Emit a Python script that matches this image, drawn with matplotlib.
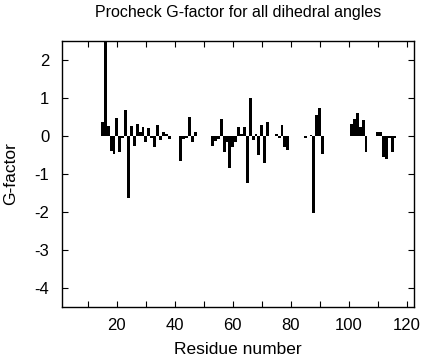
import matplotlib
matplotlib.use("Agg")
import matplotlib.pyplot as plt

residues = [15, 16, 17, 18, 19, 20, 21, 22, 23, 24, 25, 26, 27, 28, 29, 30, 31, 32, 33, 34, 35, 36, 37, 38,
            42, 43, 44, 45, 46, 47,
            53, 54, 55, 56, 57, 58, 59, 60, 61, 62, 63, 64, 65, 66, 67, 68, 69, 70, 71, 72,
            75, 76, 77, 78, 79,
            85, 87, 88, 89, 90, 91,
            101, 102, 103, 104, 105, 106,
            110, 111, 112, 113, 114, 115, 116]
gfactor = [0.38, 3.2, 0.26, -0.39, -0.46, 0.47, -0.42, -0.06, 0.68, -1.62, 0.26, -0.26, 0.33, 0.11, 0.24, -0.15, 0.2, -0.05, -0.29, 0.29, -0.1, 0.1, 0.05, -0.09,
           -0.66, -0.08, -0.05, 0.49, -0.15, 0.11,
           -0.26, -0.12, -0.08, 0.45, -0.41, -0.15, -0.85, -0.28, -0.15, 0.25, 0.05, 0.25, -1.23, 1.0, -0.1, 0.05, -0.5, 0.29, -0.7, 0.38,
           0.05, -0.05, 0.29, -0.3, -0.37,
           -0.06, 0.03, -2.03, 0.55, 0.75, -0.46,
           0.33, 0.45, 0.6, 0.25, 0.42, -0.41,
           0.11, 0.11, -0.56, -0.61, -0.05, -0.41, -0.05]

plt.rcParams['font.family'] = ['Liberation Sans', 'DejaVu Sans']
plt.rcParams['axes.unicode_minus'] = False

fig = plt.figure(figsize=(4.24, 3.6), dpi=100)
ax = fig.add_axes([0.146, 0.147, 0.830, 0.739])

ax.bar(residues, gfactor, width=1.0, color='black', linewidth=0)

ax.set_xlim(1, 122.5)
ax.set_ylim(-4.5, 2.5)
ax.set_xticks(range(10, 121, 10))
ax.set_xticklabels(['' if t % 20 else str(t) for t in range(10, 121, 10)])
ax.set_yticks(range(-4, 3))
ax.tick_params(direction='in', top=True, right=True, labelsize=12, length=4, width=0.8)
ax.tick_params(axis='x', pad=8)
ax.tick_params(axis='y', pad=9)
for s in ax.spines.values():
    s.set_linewidth(1.0)

ax.set_title('Procheck G-factor for all dihedral angles', fontsize=11.5, pad=17)
ax.set_xlabel('Residue number', fontsize=12.5, labelpad=6)
ax.set_ylabel('G-factor', fontsize=12.5, labelpad=12)

fig.savefig('out.png', dpi=100)
